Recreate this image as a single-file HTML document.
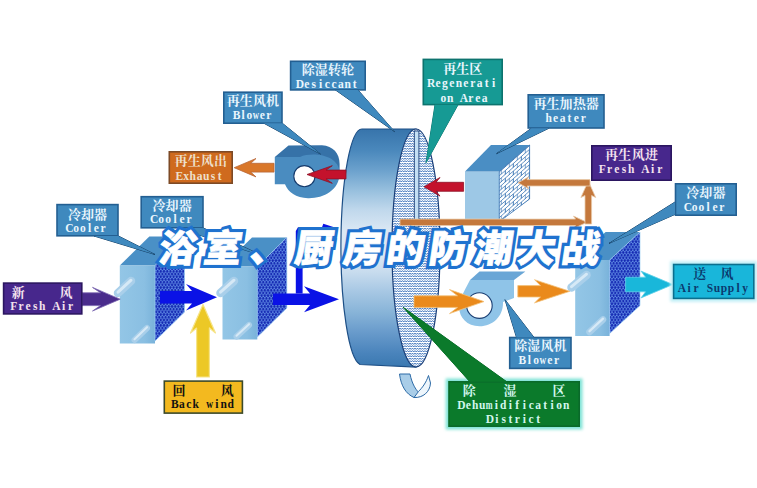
<!DOCTYPE html>
<html lang="zh">
<head>
<meta charset="utf-8">
<title>浴室、厨房的防潮大战</title>
<style>
html,body{margin:0;padding:0;background:#fff;}
body{width:757px;height:488px;overflow:hidden;font-family:"Liberation Serif",serif;}
svg{display:block;}
.cj{font-family:"Liberation Serif","Noto Serif CJK SC",serif;font-weight:bold;font-size:13px;}
.ttl{font-family:"Liberation Sans","Noto Sans CJK SC",sans-serif;font-weight:900;font-size:38px;}
</style>
</head>
<body>
<svg width="757" height="488" viewBox="0 0 757 488" role="img" aria-label="除湿转轮 dehumidifier diagram">
<defs>

<linearGradient id="gWheel" x1="0" y1="0" x2="0" y2="1">
<stop offset="0" stop-color="#3774ab"/><stop offset="0.09" stop-color="#4a88bc"/>
<stop offset="0.17" stop-color="#6aa0cc"/><stop offset="0.26" stop-color="#98c0de"/>
<stop offset="0.34" stop-color="#c0d8ec"/><stop offset="0.43" stop-color="#dbe8f4"/>
<stop offset="0.52" stop-color="#dde9f5"/><stop offset="0.6" stop-color="#c8dcee"/>
<stop offset="0.68" stop-color="#a8c8e4"/><stop offset="0.77" stop-color="#88b4d8"/>
<stop offset="0.85" stop-color="#6a9ccc"/><stop offset="0.94" stop-color="#4a84bc"/>
<stop offset="1" stop-color="#3a78b0"/>
</linearGradient>
<linearGradient id="gFront" x1="0" y1="0" x2="1" y2="0">
<stop offset="0" stop-color="#93c6e6"/><stop offset="0.7" stop-color="#8abfe2"/><stop offset="1" stop-color="#79b2da"/>
</linearGradient>
<pattern id="pWave" width="5" height="5" patternUnits="userSpaceOnUse">
<path d="M-1.25,1.95 L0,0.6 L1.25,1.95 L2.5,0.6 L3.75,1.95 L5,0.6 L6.25,1.95 M-1.25,4.45 L0,3.1 L1.25,4.45 L2.5,3.1 L3.75,4.45 L5,3.1 L6.25,4.45" fill="none" stroke="#2460b2" stroke-width="0.9" stroke-linejoin="round"/>
</pattern>
<pattern id="pDots" width="3.2" height="5.4" patternUnits="userSpaceOnUse">
<circle cx="0.8" cy="1.35" r="1.3" fill="#1428b2"/><circle cx="2.4" cy="4.05" r="1.3" fill="#1428b2"/>
<circle cx="-0.8" cy="4.05" r="1.3" fill="#1428b2"/><circle cx="4" cy="1.35" r="1.3" fill="#1428b2"/>
</pattern>
<pattern id="pBrick" width="8" height="7.6" patternUnits="userSpaceOnUse" patternTransform="translate(499.3,171.5) skewY(-41.2)">
<path d="M0,0.5 H8 M0,4.3 H8 M2,0.5 V4.3 M6,4.3 V8.1 M6,0 V0.5" fill="none" stroke="#2d6cae" stroke-width="0.75"/>
</pattern>
<filter id="soft" x="-10%" y="-20%" width="120%" height="140%"><feGaussianBlur stdDeviation="1.6"/></filter>
</defs>
<rect width="757" height="488" fill="#fff"/>
<g id="wheel">
<path d="M362,129 L416,129 L416,367 L360,364.5 A21,118 0 0 1 362,129 Z" fill="url(#gWheel)" stroke="#1d4f86" stroke-width="1.2"/>
<ellipse cx="416" cy="248" rx="24" ry="119" fill="#fff"/>
<ellipse cx="416" cy="248" rx="24" ry="119" fill="url(#pWave)" stroke="#1b3f78" stroke-width="1.2"/>
<rect x="414.3" y="131" width="4.6" height="96" fill="#c4e0f4" stroke="#1b3f78" stroke-width="0.9"/>
</g>
<path d="M399.5,374 L410,374 C412,384 416,391 422,395.5 L414,397.5 C406,394 401,386 399.5,374 Z" fill="#a9cde8" stroke="#2c6aa6" stroke-width="1"/>
<path d="M414,397.5 C423,398 430,392 430.5,383 L428.5,375.5 C426,383 422,388 418.5,391.5 Z" fill="#eef6fc" stroke="#2c6aa6" stroke-width="1"/>
<g id="regenBlower">
<path d="M274.8,157 L288.5,145.5 L322,145.2 C333,146 339.6,153 339.6,164 L339.6,172 L300,157 Z" fill="#3672a8"/>
<path d="M274.8,157 L300,157 C313,151.5 339.6,155 339.6,173 C339.6,190.5 323,198.6 308,198.2 C296,197.8 288,192 285,184.2 L274.8,184.2 Z" fill="#4a8cc0"/>
<circle cx="304.4" cy="176.2" r="10.6" fill="#fff" stroke="#143a6c" stroke-width="1.1"/>
</g>
<g id="heater">
<polygon points="465,171.5 499.3,171.5 499.3,221.7 465,221.7" fill="#9dc8e6"/>
<polygon points="465,171.5 491,145 529.6,145 499.3,171.5" fill="#4a8ec4"/>
<polygon points="499.3,171.5 529.6,145 529.6,199 499.3,221.7" fill="#fff"/>
<polygon points="499.3,171.5 529.6,145 529.6,199 499.3,221.7" fill="url(#pBrick)" stroke="#2d6cae" stroke-width="0.8" stroke-linejoin="round"/>
</g>
<g id="cooler1">
<polygon points="119.8,265.5 149.3,236.5 184.5,236.5 155,265.5" fill="#4a90c6"/><rect x="119.8" y="265.5" width="35.2" height="78" fill="url(#gFront)"/><polygon points="155,265.5 184.5,236.5 184.5,312 155,341" fill="#6f9fee"/><polygon points="155,265.5 184.5,236.5 184.5,312 155,341" fill="url(#pDots)" stroke="#9fd0f2" stroke-width="0.7" stroke-linejoin="round"/>
<line x1="118" y1="293" x2="131" y2="281" stroke="#a9cfea" stroke-width="8.5" stroke-linecap="round"/><line x1="118" y1="292.2" x2="131" y2="280.2" stroke="#d6e9f6" stroke-width="2.97" stroke-linecap="round"/>
<line x1="134.5" y1="340" x2="147" y2="328" stroke="#a9cfea" stroke-width="6" stroke-linecap="round"/><line x1="134.5" y1="339.2" x2="147" y2="327.2" stroke="#d6e9f6" stroke-width="2.10" stroke-linecap="round"/>
</g>
<g id="cooler2">
<polygon points="222.5,266.5 252,237.5 286.8,237.5 257.3,266.5" fill="#4a90c6"/><rect x="222.5" y="266.5" width="34.8" height="73" fill="url(#gFront)"/><polygon points="257.3,266.5 286.8,237.5 286.8,308 257.3,337" fill="#6f9fee"/><polygon points="257.3,266.5 286.8,237.5 286.8,308 257.3,337" fill="url(#pDots)" stroke="#9fd0f2" stroke-width="0.7" stroke-linejoin="round"/>
<line x1="220.5" y1="293" x2="234" y2="281" stroke="#a9cfea" stroke-width="8.5" stroke-linecap="round"/><line x1="220.5" y1="292.2" x2="234" y2="280.2" stroke="#d6e9f6" stroke-width="2.97" stroke-linecap="round"/>
<line x1="236.5" y1="336.5" x2="249" y2="325" stroke="#a9cfea" stroke-width="6" stroke-linecap="round"/><line x1="236.5" y1="335.7" x2="249" y2="324.2" stroke="#d6e9f6" stroke-width="2.10" stroke-linecap="round"/>
</g>
<g id="cooler3">
<polygon points="575.2,260 605.6,232 640,232 609.6,260" fill="#4a90c6"/><rect x="575.2" y="260" width="34.4" height="76" fill="url(#gFront)"/><polygon points="609.6,260 640,232 640,305.5 609.6,333.5" fill="#6f9fee"/><polygon points="609.6,260 640,232 640,305.5 609.6,333.5" fill="url(#pDots)" stroke="#9fd0f2" stroke-width="0.7" stroke-linejoin="round"/>
<line x1="571.5" y1="287.5" x2="586.5" y2="275" stroke="#a9cfea" stroke-width="8.5" stroke-linecap="round"/><line x1="571.5" y1="286.7" x2="586.5" y2="274.2" stroke="#d6e9f6" stroke-width="2.97" stroke-linecap="round"/>
<line x1="589.5" y1="332" x2="603" y2="319.5" stroke="#a9cfea" stroke-width="6.5" stroke-linecap="round"/><line x1="589.5" y1="331.2" x2="603" y2="318.7" stroke="#d6e9f6" stroke-width="2.27" stroke-linecap="round"/>
</g>
<g id="dehumBlower">
<path d="M470,280 L479.5,271.5 L525.4,271.5 L514,280 Z" fill="#6aa6d6"/>
<path d="M470,280 L514,280 L514,298 L503,302 C503.5,316 493,326.2 479.5,326.2 C467,326.2 459.2,317.5 459.2,307.5 C459.2,300.5 462.5,294 470,280 Z" fill="#8fc4e8"/>
<circle cx="479.4" cy="305.6" r="12.8" fill="#fff" stroke="#1a3f74" stroke-width="1.1"/>
</g>
<g id="copper">
<polygon points="400,219.1 575.5,219.1 573.5,216.1 587,222.3 573.5,228.5 575.5,225.5 400,225.5" fill="#c4783c" stroke="#e9c9a8" stroke-width="0.8" stroke-linejoin="round"/>
<polygon points="585,224 585,195.5 580.9,197.5 588.3,181 595.7,197.5 591.6,195.5 591.6,224" fill="#c4783c" stroke="#e9c9a8" stroke-width="0.8" stroke-linejoin="round"/>
<polygon points="590,179.6 527,179.6 529,176.8 518,182.8 529,188.8 527,186 590,186" fill="#c4783c" stroke="#e9c9a8" stroke-width="0.8" stroke-linejoin="round"/>
</g>
<polygon points="463.6,182.3 436,182.3 440,177.5 424,186.8 440,196.1 436,191.3 463.6,191.3" fill="#c4122c" stroke="#8e1226" stroke-width="0.8" stroke-linejoin="round"/>
<polygon points="346,170.1 326,170.1 332.3,165.7 307,174.5 332.3,183.3 326,178.9 346,178.9" fill="#c4122c" stroke="#8e1226" stroke-width="0.8" stroke-linejoin="round"/>
<polygon points="274,163.3 250.8,163.3 256,158.5 234.2,167.7 256,176.9 250.8,172.1 274,172.1" fill="#d9772a" stroke="#b9683a" stroke-width="0.8" stroke-linejoin="round"/>
<polygon points="82,292.8 100.5,292.8 92.5,287.4 120.2,299.2 92.5,311 100.5,305.6 82,305.6" fill="#4a2c8c" stroke="#7a66b0" stroke-width="0.8" stroke-linejoin="round"/>
<polygon points="160,291.1 192,291.1 186,284.1 217,297.3 186,310.5 192,303.5 160,303.5" fill="#0a12e6"/>
<path d="M298,227.3 L322,227.3 L323.3,223.8 L338,228.4 L331,231.5 L302.6,231.5 L302.6,293.5 L295.8,293.5 L295.8,231 Z" fill="#0a12e6"/>
<polygon points="273,293.5 310,293.5 304,286.3 339,299.3 304,312.3 310,305.1 273,305.1" fill="#0a12e6"/>
<polygon points="196.6,377 196.6,328 190.5,333 203,304.5 215.5,333 209.4,328 209.4,377" fill="#ecc826" stroke="#f6e48a" stroke-width="1.2" stroke-linejoin="round"/>
<polygon points="414,295.8 457.5,295.8 449.5,289.6 484,301.6 449.5,313.6 457.5,307.4 414,307.4" fill="#ea8a1c" stroke="#f3c27a" stroke-width="0.8" stroke-linejoin="round"/>
<polygon points="517.8,285.6 540.5,285.6 534.5,279.7 569.8,291.3 534.5,302.9 540.5,297 517.8,297" fill="#ea8a1c" stroke="#f3c27a" stroke-width="0.8" stroke-linejoin="round"/>
<polygon points="625.6,277.2 645.5,277.2 641,271.1 673,284.5 641,297.9 645.5,291.8 625.6,291.8" fill="#19b7da" stroke="#62d3ea" stroke-width="0.8" stroke-linejoin="round"/>
<g><polygon points="335.5,90 358,90 394.5,131.6" fill="#3f89be" stroke="#163e63" stroke-width="1.0" stroke-linejoin="round"/><rect x="290.6" y="61.3" width="74.6" height="28.6" fill="#3f89be" stroke="#235f92" stroke-width="1.6"/><polygon points="335.5,90 358,90 394.5,131.6" fill="#3f89be"/><text class="cj" x="301.75 314.85 327.95 341.05" y="74.28" fill="#eaf6fd">除湿转轮</text><text x="300.01 306.83 313.66 320.48 327.3 334.12 340.94 347.77 354.59" y="87.6" text-anchor="middle" font-family="'Liberation Serif', serif" font-weight="bold" font-size="11.5" fill="#eaf6fd" xml:space="preserve">Desiccant</text></g>
<g><polygon points="264,123.3 282.4,123.3 320.4,154" fill="#3f89be" stroke="#163e63" stroke-width="1.0" stroke-linejoin="round"/><rect x="223.8" y="92.2" width="58.2" height="31" fill="#3f89be" stroke="#235f92" stroke-width="1.6"/><polygon points="264,123.3 282.4,123.3 320.4,154" fill="#3f89be"/><text class="cj" x="226.75 239.85 252.95 266.05" y="105.18" fill="#eaf6fd">再生风机</text><text y="119" font-family="'Liberation Serif', serif" font-weight="bold" font-size="11.5" fill="#eaf6fd" xml:space="preserve"><tspan x="236.53 242.98 249.43" text-anchor="middle">Blo</tspan><tspan x="252.71" textLength="6.32" lengthAdjust="spacingAndGlyphs">w</tspan><tspan x="262.32 268.77" text-anchor="middle">er</tspan></text></g>
<g><rect x="169.3" y="151.8" width="62.9" height="31.4" fill="#cf6a1e" stroke="#7d4a26" stroke-width="1.6"/><text class="cj" x="174.6 187.7 200.8 213.9" y="164.78" fill="#eee0cc">再生风出</text><text x="179.36 186.07 192.79 199.5 206.21 212.93 219.64" y="179.7" text-anchor="middle" font-family="'Liberation Serif', serif" font-weight="bold" font-size="11.5" fill="#eee0cc" xml:space="preserve">Exhaust</text></g>
<g><polygon points="94,236 118.4,236 155,254.5" fill="#3f89be" stroke="#163e63" stroke-width="1.0" stroke-linejoin="round"/><rect x="57" y="204.6" width="61" height="31.2" fill="#3f89be" stroke="#235f92" stroke-width="1.6"/><polygon points="94,236 118.4,236 155,254.5" fill="#3f89be"/><text class="cj" x="67.9 81 94.1" y="218.78" fill="#eaf6fd">冷却器</text><text x="69.38 76.12 82.88 89.62 96.38 103.12" y="231.6" text-anchor="middle" font-family="'Liberation Serif', serif" font-weight="bold" font-size="11.5" fill="#eaf6fd" xml:space="preserve">Cooler</text></g>
<g><polygon points="178,228 203.4,228 263,256" fill="#3f89be" stroke="#163e63" stroke-width="1.0" stroke-linejoin="round"/><rect x="141.2" y="196.7" width="61.8" height="31.1" fill="#3f89be" stroke="#235f92" stroke-width="1.6"/><polygon points="178,228 203.4,228 263,256" fill="#3f89be"/><text class="cj" x="152.5 165.6 178.7" y="210.38" fill="#eaf6fd">冷却器</text><text x="154.09 161.07 168.06 175.04 182.03 189.01" y="223.4" text-anchor="middle" font-family="'Liberation Serif', serif" font-weight="bold" font-size="11.5" fill="#eaf6fd" xml:space="preserve">Cooler</text></g>
<g><rect x="3.6" y="283.1" width="78.2" height="30.8" fill="#47278c" stroke="#2b1660" stroke-width="1.6"/><text class="cj" x="11.8 59.4" y="296.78" fill="#f4e2ee">新风</text><text x="13.85 20.95 28.05 35.15 42.25 49.35 56.45 63.55 70.65" y="309.5" text-anchor="middle" font-family="'Liberation Serif', serif" font-weight="bold" font-size="11.5" fill="#f4e2ee" xml:space="preserve">Fresh Air</text></g>
<g><rect x="164.3" y="381.1" width="78.1" height="32" fill="#f3b91f" stroke="#3c4a2a" stroke-width="1.6"/><text class="cj" x="172.4 220.8" y="395.38" fill="#111">回风</text><text y="408" font-family="'Liberation Serif', serif" font-weight="bold" font-size="11.5" fill="#111" xml:space="preserve"><tspan x="174.79 181.78 188.77 195.76 202.75" text-anchor="middle">Back </tspan><tspan x="206.31" textLength="6.85" lengthAdjust="spacingAndGlyphs">w</tspan><tspan x="216.73 223.72 230.71" text-anchor="middle">ind</tspan></text></g>
<g><polygon points="435,104.8 458,104.8 426,162.7" fill="#169a94" stroke="#0d736e" stroke-width="1.0" stroke-linejoin="round"/><rect x="423.3" y="59.4" width="78.9" height="45.2" fill="#169a94" stroke="#0d736e" stroke-width="1.6"/><polygon points="435,104.8 458,104.8 426,162.7" fill="#169a94"/><text class="cj" x="443.15 456.25 469.35" y="72.78" fill="#eaf6fd">再生区</text><text x="431.07 438.01 444.95 451.89 458.83 465.77 472.71 479.65 486.59 493.53" y="86.7" text-anchor="middle" font-family="'Liberation Serif', serif" font-weight="bold" font-size="11.5" fill="#eaf6fd" xml:space="preserve">Regenerati</text><text x="443.43 450.29 457.14 464 470.86 477.71 484.57" y="102" text-anchor="middle" font-family="'Liberation Serif', serif" font-weight="bold" font-size="11.5" fill="#eaf6fd" xml:space="preserve">on Area</text></g>
<g><polygon points="531.5,128.2 549,128.2 496.6,153.6" fill="#3f89be" stroke="#163e63" stroke-width="1.0" stroke-linejoin="round"/><rect x="528.2" y="94.8" width="75.8" height="33.2" fill="#3f89be" stroke="#235f92" stroke-width="1.6"/><polygon points="531.5,128.2 549,128.2 496.6,153.6" fill="#3f89be"/><text class="cj" x="533.4 546.5 559.6 572.7 585.8" y="107.98" fill="#eaf6fd">再生加热器</text><text x="548.75 555.65 562.55 569.45 576.35 583.25" y="122.4" text-anchor="middle" font-family="'Liberation Serif', serif" font-weight="bold" font-size="11.5" fill="#eaf6fd" xml:space="preserve">heater</text></g>
<g><rect x="591.8" y="145.8" width="79.4" height="34.4" fill="#47278c" stroke="#2b1660" stroke-width="1.6"/><text class="cj" x="604.9 618.3 631.7 645.1" y="158.78" fill="#f4e2ee">再生风进</text><text x="602.39 609.57 616.74 623.92 631.1 638.28 645.46 652.63 659.81" y="173.4" text-anchor="middle" font-family="'Liberation Serif', serif" font-weight="bold" font-size="11.5" fill="#f4e2ee" xml:space="preserve">Fresh Air</text></g>
<g><polygon points="675,202 675,214.4 609,243.4" fill="#3f89be" stroke="#163e63" stroke-width="1.0" stroke-linejoin="round"/><rect x="675.5" y="183.8" width="60.7" height="31.4" fill="#3f89be" stroke="#235f92" stroke-width="1.6"/><polygon points="675,202 675,214.4 609,243.4" fill="#3f89be"/><text class="cj" x="686.25 699.35 712.45" y="197.38" fill="#eaf6fd">冷却器</text><text x="687.8 694.6 701.4 708.2 715 721.8" y="211" text-anchor="middle" font-family="'Liberation Serif', serif" font-weight="bold" font-size="11.5" fill="#eaf6fd" xml:space="preserve">Cooler</text></g>
<g><rect x="670.3" y="261.2" width="86.8" height="40.5" fill="#bdeef6" filter="url(#soft)"/><rect x="673.6" y="264.5" width="80.2" height="33.9" fill="#19b6da" stroke="#0b6f8e" stroke-width="1.6"/><text class="cj" x="693.3 720.4" y="277.58" fill="#0b3a6e">送风</text><text x="682 689 696 703 710 717 724 731 738 745" y="292" text-anchor="middle" font-family="'Liberation Serif', serif" font-weight="bold" font-size="11.5" fill="#0b3a6e" xml:space="preserve">Air Supply</text></g>
<g><polygon points="516.5,337.4 534,337.4 505,299.7" fill="#3f89be" stroke="#163e63" stroke-width="1.0" stroke-linejoin="round"/><rect x="509.7" y="337.5" width="61.3" height="30.9" fill="#3f89be" stroke="#235f92" stroke-width="1.6"/><polygon points="516.5,337.4 534,337.4 505,299.7" fill="#3f89be"/><text class="cj" x="514.2 527.3 540.4 553.5" y="349.98" fill="#eaf6fd">除湿风机</text><text y="363.6" font-family="'Liberation Serif', serif" font-weight="bold" font-size="11.5" fill="#eaf6fd" xml:space="preserve"><tspan x="522.42 529.25 536.08" text-anchor="middle">Blo</tspan><tspan x="539.57" textLength="6.7" lengthAdjust="spacingAndGlyphs">w</tspan><tspan x="549.75 556.58" text-anchor="middle">er</tspan></text></g>
<g><rect x="445.7" y="378.5" width="136.8" height="51" fill="#7fe3d6" filter="url(#soft)"/><polygon points="469.8,381.7 506.7,381.7 403.2,307.3" fill="#0b7a2b" stroke="#0a6a2a" stroke-width="1.0" stroke-linejoin="round"/><rect x="449" y="381.8" width="130.2" height="44.4" fill="#0b7a2b" stroke="#0a6a2a" stroke-width="1.6"/><polygon points="469.8,381.7 506.7,381.7 403.2,307.3" fill="#0b7a2b"/><text class="cj" x="462.8 503.4 552.6" y="395.18" fill="#d2f7ee">除湿区</text><text y="408.5" font-family="'Liberation Serif', serif" font-weight="bold" font-size="11.5" fill="#d2f7ee" xml:space="preserve"><tspan x="461.3 468.29 475.28 482.28" text-anchor="middle">Dehu</tspan><tspan x="485.84" textLength="6.85" lengthAdjust="spacingAndGlyphs">m</tspan><tspan x="496.27 503.26 510.25 517.25 524.24 531.23 538.23 545.22 552.22 559.21 566.2" text-anchor="middle">idification</tspan></text><text x="489.84 496.73 503.62 510.51 517.39 524.28 531.17 538.06" y="423.3" text-anchor="middle" font-family="'Liberation Serif', serif" font-weight="bold" font-size="11.5" fill="#d2f7ee" xml:space="preserve">District</text></g>
<g id="title" transform="translate(0,262) skewX(-8.5)">
<text class="ttl" x="157 202 248.5 293.5 342 385 427.5 473 516 560" y="0" fill="#1f72cf" stroke="#1f72cf" stroke-width="7" stroke-linejoin="miter" stroke-miterlimit="1.5">浴室、厨房的防潮大战</text>
<text class="ttl" x="157 202 248.5 293.5 342 385 427.5 473 516 560" y="0" fill="#fff" stroke="#fff" stroke-width="0.7" stroke-linejoin="miter" stroke-miterlimit="1.5">浴室、厨房的防潮大战</text>
</g>
</svg>
</body>
</html>
